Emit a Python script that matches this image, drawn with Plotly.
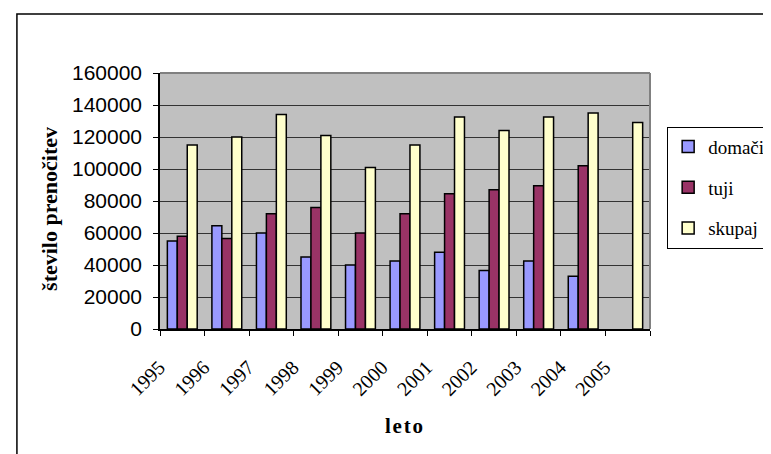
import plotly.graph_objects as go

# data
years = ['1995', '1996', '1997', '1998', '1999', '2000', '2001', '2002', '2003', '2004', '2005']
domaci = [55000, 64500, 60000, 45000, 40000, 42500, 48000, 36500, 42500, 33000, None]
tuji = [58000, 56500, 72000, 76000, 60000, 72000, 84500, 87000, 89500, 102000, None]
skupaj = [115000, 120000, 134000, 121000, 101000, 115000, 132500, 124000, 132500, 135000, 129000]
y_ticks = [0, 20000, 40000, 60000, 80000, 100000, 120000, 140000, 160000]

serif = 'Liberation Serif'
sans = 'Liberation Sans'

fig = go.Figure()
for name, vals, col in [('domači', domaci, '#9999FF'),
                        ('tuji', tuji, '#993366'),
                        ('skupaj', skupaj, '#FFFFCC')]:
    fig.add_trace(go.Bar(
        x=years, y=vals, name=name, legendgroup=name,
        marker=dict(color=col, line=dict(color='black', width=1.5)),
    ))

# page body adds an 8px offset, so the figure is 8px smaller
fig.update_layout(
    width=763, height=446,
    margin=dict(l=152, r=121, t=65, b=125, autoexpand=False),
    paper_bgcolor='white',
    plot_bgcolor='#C0C0C0',
    barmode='group',
    bargap=0.33,
    bargroupgap=0,
    showlegend=True,
    legend=dict(
        x=1.035, y=0.79, xanchor='left', yanchor='top',
        bgcolor='white', bordercolor='black', borderwidth=1,
        font=dict(family=serif, size=19, color='black'),
        tracegroupgap=13,
    ),
    xaxis=dict(
        type='category',
        showline=True, linecolor='black', linewidth=1.5,
        ticks='outside', tickson='boundaries', ticklen=5, tickcolor='black',
        tickangle=-45,
        tickfont=dict(family=serif, size=20, color='black'),
        ticklabelshift=-23, ticklabelstandoff=17,
        showgrid=False,
    ),
    yaxis=dict(
        range=[0, 160000],
        tickvals=y_ticks,
        tickformat='d',
        showline=True, linecolor='black', linewidth=1.5,
        ticks='outside', ticklen=5, tickcolor='black',
        tickfont=dict(family=sans, size=21, color='black'),
        ticklabelstandoff=7,
        showgrid=True, gridcolor='#333333', gridwidth=1,
        zeroline=False,
    ),
    annotations=[
        dict(text='<b>število prenočitev</b>', xref='paper', yref='paper',
             x=-0.2245, y=0.469, xanchor='center', yanchor='middle',
             textangle=-90, showarrow=False,
             font=dict(family=serif, size=22, color='black')),
        dict(text='<b>l\u200ae\u200at\u200ao</b>', xref='paper', yref='paper',
             x=0.498, y=-0.38, xanchor='center', yanchor='middle', showarrow=False,
             font=dict(family=serif, size=21, color='black')),
    ],
    shapes=[
        # plot area border (top and right)
        dict(type='line', xref='paper', yref='paper', x0=0, x1=1, y0=1, y1=1,
             line=dict(color='#808080', width=2)),
        dict(type='line', xref='paper', yref='paper', x0=1, x1=1, y0=0, y1=1,
             line=dict(color='#808080', width=2)),
        # outer chart frame
        dict(type='rect', xref='paper', yref='paper', x0=-0.292, x1=1.3, y0=-0.7, y1=1.2305,
             line=dict(color='black', width=1.5)),
    ],
)

fig.write_html('out.html')
